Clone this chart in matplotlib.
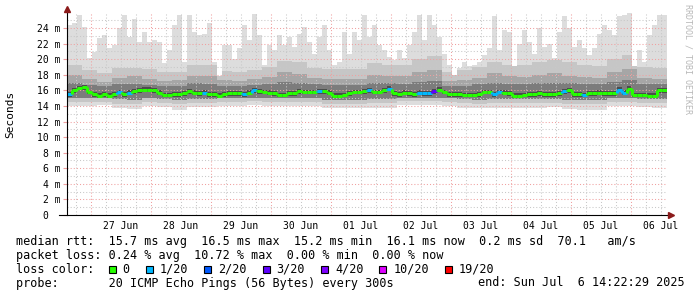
import numpy as np
import matplotlib.pyplot as plt
import matplotlib.dates as mdates
from matplotlib.patches import Rectangle
from matplotlib.collections import LineCollection
from datetime import datetime, timedelta

plt.rcParams['font.family'] = ['DejaVu Sans Mono']

start = datetime(2025, 6, 26, 14, 22, 29)
end = datetime(2025, 7, 6, 14, 22, 29)

# 2 hour columns, values in ms
rtt_max = [24.4, 24.6, 25.7, 24.2, 20.1, 20.9, 22.7, 23.1, 21.4, 21.8,
           24.0, 25.7, 22.9, 25.2, 22.2, 23.5, 22.2, 22.5, 22.2, 19.5,
           21.2, 24.4, 25.7, 19.7, 25.7, 23.5, 23.1, 23.3, 24.6, 19.7,
           17.8, 21.8, 21.8, 20.0, 21.5, 24.4, 22.5, 25.8, 23.1, 19.3,
           21.8, 21.2, 23.1, 21.8, 22.9, 21.6, 23.3, 24.2, 22.2, 20.7,
           22.9, 24.4, 21.2, 19.3, 19.7, 23.5, 20.7, 23.5, 22.5, 25.7,
           22.9, 24.4, 21.8, 21.2, 20.3, 19.9, 21.2, 20.1, 21.8, 23.5,
           25.7, 22.5, 25.7, 24.4, 22.9, 20.7, 19.3, 18.0, 18.9, 19.7,
           19.1, 19.3, 19.7, 20.5, 21.4, 25.5, 21.2, 23.7, 23.5, 19.1,
           22.0, 23.7, 22.2, 20.7, 24.0, 21.6, 22.0, 20.1, 23.5, 25.5,
           24.0, 21.6, 22.5, 21.4, 20.5, 21.4, 23.3, 24.4, 23.7, 23.1,
           25.5, 25.7, 25.9, 19.1, 21.2, 19.7, 23.1, 24.4, 25.7, 25.7]

rtt_median = [15.5, 16.0, 16.3, 16.4, 15.8, 15.5, 15.3, 15.5, 15.3, 15.5,
              15.8, 15.5, 15.7, 15.9, 16.0, 16.1, 16.1, 16.0, 15.7, 15.4,
              15.4, 15.5, 15.5, 15.6, 15.9, 15.7, 15.6, 15.7, 15.5, 15.5,
              15.3, 15.5, 15.6, 15.6, 15.6, 15.5, 15.7, 16.0, 15.9, 15.8,
              15.7, 15.6, 15.4, 15.4, 15.6, 15.6, 15.9, 15.8, 15.8, 15.8,
              15.9, 15.9, 15.7, 15.3, 15.3, 15.4, 15.6, 15.8, 15.8, 15.9,
              16.0, 15.8, 15.8, 16.0, 16.2, 15.6, 15.5, 15.7, 15.6, 15.5,
              15.7, 15.6, 15.6, 15.9, 16.1, 15.8, 15.5, 15.5, 15.5, 15.4,
              15.4, 15.4, 15.5, 15.8, 15.8, 15.5, 15.8, 15.7, 15.6, 15.3,
              15.3, 15.4, 15.5, 15.5, 15.6, 15.5, 15.5, 15.5, 15.6, 15.9,
              16.0, 15.5, 15.5, 15.4, 15.6, 15.6, 15.7, 15.6, 15.6, 15.6,
              16.1, 15.7, 16.2, 15.4, 15.4, 15.4, 15.3, 15.3, 16.0, 16.0]

# lost pings out of 20 per column
loss = [1, 0, 0, 0, 0, 0, 0, 0, 0, 0,
        1, 0, 1, 0, 0, 0, 0, 0, 0, 0,
        0, 0, 0, 0, 0, 0, 0, 1, 0, 0,
        0, 0, 0, 0, 0, 1, 0, 1, 0, 0,
        0, 0, 0, 0, 0, 0, 0, 0, 0, 0,
        1, 0, 0, 0, 0, 0, 0, 0, 0, 0,
        1, 0, 0, 0, 1, 0, 0, 0, 0, 0,
        1, 1, 1, 3, 0, 0, 0, 0, 0, 0,
        0, 0, 0, 0, 0, 1, 1, 0, 0, 0,
        0, 0, 0, 0, 0, 0, 0, 0, 0, 1,
        0, 0, 0, 1, 0, 0, 0, 0, 0, 0,
        1, 1, 0, 0, 0, 0, 0, 0, 0, 0]

# 6 hour columns: smoke band edges in ms
smoke_hi1 = [19.3, 18.6, 18.2, 18.9, 18.9, 18.7, 18.4, 18.4, 19.3, 19.2,
             18.5, 18.4, 18.6, 19.0, 19.8, 19.6, 18.9, 18.8, 18.7, 18.8,
             19.5, 19.3, 19.2, 20.0, 20.4, 18.4, 18.6, 19.0, 19.6, 19.3,
             19.2, 19.6, 19.9, 19.6, 19.2, 19.1, 20.0, 20.6, 19.0, 18.9]
smoke_hi2 = [18.0, 17.4, 17.1, 17.6, 17.8, 17.5, 17.2, 17.3, 17.9, 17.8,
             17.3, 17.2, 17.4, 17.7, 18.3, 18.1, 17.6, 17.5, 17.4, 17.5,
             18.0, 17.9, 17.8, 18.4, 18.6, 17.2, 17.3, 17.6, 18.2, 17.8,
             17.7, 18.0, 18.2, 17.9, 17.7, 17.6, 18.3, 18.8, 17.6, 17.5]
smoke_hi3 = [16.9, 16.7, 16.6, 16.8, 16.8, 16.7, 16.6, 16.6, 16.9, 16.8,
             16.6, 16.6, 16.7, 16.8, 17.1, 17.0, 16.8, 16.7, 16.7, 16.7,
             16.9, 16.9, 16.8, 17.1, 17.2, 16.6, 16.6, 16.8, 17.0, 16.8,
             16.8, 16.9, 17.0, 16.9, 16.8, 16.8, 17.1, 17.3, 16.8, 16.8]
smoke_lo3 = [15.0, 15.0, 15.0, 14.9, 14.8, 15.0, 14.9, 14.8, 14.9, 14.9,
             15.0, 15.0, 15.0, 15.0, 15.0, 15.0, 15.0, 14.8, 14.8, 14.8,
             14.9, 14.9, 15.0, 15.0, 15.0, 15.0, 14.9, 14.8, 14.9, 14.9,
             14.9, 14.9, 14.9, 14.8, 14.8, 14.8, 15.0, 15.0, 14.9, 14.9]
smoke_lo2 = [14.5, 14.5, 14.5, 14.3, 14.3, 14.5, 14.4, 14.2, 14.4, 14.4,
             14.5, 14.5, 14.6, 14.5, 14.5, 14.5, 14.5, 14.3, 14.3, 14.3,
             14.4, 14.4, 14.6, 14.6, 14.6, 14.5, 14.4, 14.3, 14.4, 14.4,
             14.4, 14.4, 14.4, 14.3, 14.2, 14.2, 14.5, 14.5, 14.4, 14.4]
smoke_lo1 = [14.0, 14.0, 14.1, 13.7, 13.6, 14.0, 13.9, 13.5, 13.9, 13.9,
             14.0, 14.0, 14.1, 14.0, 14.0, 14.0, 14.0, 13.7, 13.7, 13.7,
             13.8, 13.8, 14.1, 14.1, 14.1, 14.0, 13.8, 13.7, 13.8, 13.8,
             13.8, 13.8, 13.9, 13.6, 13.5, 13.5, 14.0, 14.0, 13.9, 13.8]

loss_levels = [0, 1, 2, 3, 4, 10, 19]
loss_labels = ['0', '1/20', '2/20', '3/20', '4/20', '10/20', '19/20']
loss_colors = ['#26ff00', '#00b8ff', '#0059ff', '#5e00ff', '#7e00ff', '#dd00ff', '#ff0000']

n = len(rtt_median)
edges = mdates.date2num([start + timedelta(hours=2 * i) for i in range(n + 1)])
med = np.array(rtt_median)
top = np.array(rtt_max)
lo1 = np.repeat(smoke_lo1, 3)
lo2 = np.repeat(smoke_lo2, 3)
lo3 = np.repeat(smoke_lo3, 3)
hi1 = np.minimum(np.repeat(smoke_hi1, 3), top)
hi2 = np.minimum(np.repeat(smoke_hi2, 3), top)
hi3 = np.minimum(np.repeat(smoke_hi3, 3), top)


def band(ax, y1, y2, color):
    ax.fill_between(edges, np.append(y1, y1[-1]), np.append(y2, y2[-1]),
                    step='post', color=color, linewidth=0, zorder=1)


fig = plt.figure(figsize=(6.97, 2.97), dpi=100)
fig.patch.set_facecolor('white')
ax = fig.add_axes([67 / 697, 82 / 297, 600 / 697, 202.5 / 297])

band(ax, lo1, top, '#dddddd')
band(ax, lo2, hi1, '#c6c6c6')
band(ax, lo3, hi2, '#a6a6a6')
band(ax, lo3, hi3, '#7c7c7c')
band(ax, med - 0.3, med + 0.3, '#4c4c4c')

# median line coloured by loss
cmap = dict(zip(loss_levels, loss_colors))
segs, cols = [], []
for i in range(n):
    c = cmap[loss[i]]
    segs.append([(edges[i], med[i]), (edges[i + 1], med[i])])
    cols.append(c)
    if i > 0 and med[i] != med[i - 1]:
        segs.append([(edges[i], med[i - 1]), (edges[i], med[i])])
        cols.append(c)
ax.add_collection(LineCollection(segs, colors=cols, linewidths=2.2,
                                 capstyle='butt', zorder=4))

ax.set_xlim(edges[0], edges[-1])
ax.set_ylim(0, 26)

# grid
ax.xaxis.set_major_locator(mdates.DayLocator())
ax.xaxis.set_minor_locator(mdates.HourLocator(byhour=[6, 12, 18]))
ax.xaxis.set_major_formatter(plt.NullFormatter())


def noon_label(x, pos):
    d = mdates.num2date(x)
    return d.strftime('%d %b') if d.hour == 12 else ''


ax.xaxis.set_minor_formatter(plt.FuncFormatter(noon_label))
ax.set_yticks(np.arange(0, 25, 2))
ax.set_yticks(np.arange(1, 26, 1), minor=True)
ax.set_yticklabels(['0  '] + ['%d m' % v for v in range(2, 25, 2)])
ax.yaxis.set_minor_formatter(plt.NullFormatter())

ax.grid(True, which='major', color='#f0a0a0', linestyle=(0, (1, 2)), linewidth=0.75)
ax.grid(True, which='minor', color='#c8c8c8', linestyle=(0, (1, 2)), linewidth=0.75)
ax.set_axisbelow(False)
for ln in ax.get_xgridlines() + ax.get_ygridlines():
    ln.set_zorder(2)

ax.tick_params(axis='x', which='both', length=0, pad=4, labelsize=7)
ax.tick_params(axis='y', which='major', length=3, color='#f0a0a0', pad=1.5, labelsize=7)
ax.tick_params(axis='y', which='minor', length=0)
for s in ax.spines.values():
    s.set_visible(False)

# axes with arrows
ax.plot([-8 / 600, 1.004], [0, 0], transform=ax.transAxes, color='black',
        lw=0.8, clip_on=False, zorder=5)
ax.plot([0, 0], [0, 1.01], transform=ax.transAxes, color='black',
        lw=0.8, clip_on=False, zorder=5)
ax.plot([1.006], [0], marker='>', ms=4, color='#8b1a1a', transform=ax.transAxes,
        clip_on=False, zorder=6)
ax.plot([0], [1.018], marker='^', ms=4, color='#8b1a1a', transform=ax.transAxes,
        clip_on=False, zorder=6)

fig.text(10 / 697, 1 - 114 / 297, 'Seconds', rotation=90, ha='center',
         va='center', fontsize=8)
fig.text(688 / 697, 1 - 4 / 297, 'RRDTOOL / TOBI OETIKER', rotation=270,
         ha='center', va='top', fontsize=6, color='#b8b8b8')

# legend block
fs = 8.5
fig.text(16 / 697, 1 - 241.5 / 297,
         'median rtt:  15.7 ms avg  16.5 ms max  15.2 ms min  16.1 ms now  0.2 ms sd  70.1   am/s',
         va='center', fontsize=fs)
fig.text(16 / 697, 1 - 255.5 / 297,
         'packet loss: 0.24 % avg  10.72 % max  0.00 % min  0.00 % now',
         va='center', fontsize=fs)
fig.text(16 / 697, 1 - 269.5 / 297, 'loss color:', va='center', fontsize=fs)
fig.text(16 / 697, 1 - 283 / 297,
         'probe:       20 ICMP Echo Pings (56 Bytes) every 300s',
         va='center', fontsize=fs)
fig.text(478 / 697, 1 - 283 / 297, 'end: Sun Jul  6 14:22:29 2025',
         va='center', fontsize=fs)

cw = 7.1
bx = 108.7
for lab, col in zip(loss_labels, loss_colors):
    fig.add_artist(Rectangle((bx / 697, 1 - 273 / 297), 7 / 697, 7.5 / 297,
                             transform=fig.transFigure, facecolor=col,
                             edgecolor='black', linewidth=0.8))
    fig.text((bx + 14) / 697, 1 - 269.5 / 297, lab, va='center', fontsize=fs)
    bx = bx + 14 + len(lab) * cw + 16

fig.savefig('out.png', dpi=100)
